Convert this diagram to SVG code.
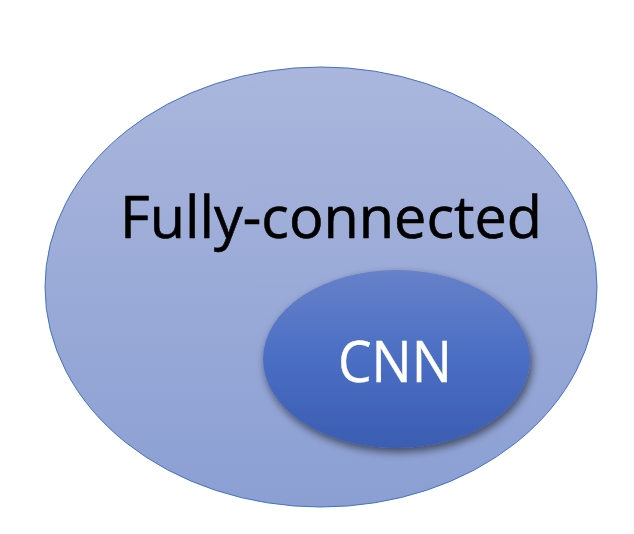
<svg xmlns="http://www.w3.org/2000/svg" width="634" height="534" viewBox="0 0 634 534">
<defs>
<linearGradient id="gOuter" x1="0" y1="0" x2="0" y2="1">
<stop offset="0" stop-color="#AAB6DC"/>
<stop offset="1" stop-color="#8B9FD3"/>
</linearGradient>
<linearGradient id="gInner" x1="0" y1="0" x2="0" y2="1">
<stop offset="0" stop-color="#6781C9"/>
<stop offset="0.5" stop-color="#4A6EC4"/>
<stop offset="1" stop-color="#3B5DB2"/>
</linearGradient>
<filter id="shadow" x="-20%" y="-20%" width="140%" height="150%">
<feGaussianBlur in="SourceAlpha" stdDeviation="4"/>
<feOffset dx="2" dy="4" result="b"/>
<feComponentTransfer><feFuncA type="linear" slope="0.55"/></feComponentTransfer>
<feMerge><feMergeNode/><feMergeNode in="SourceGraphic"/></feMerge>
</filter>
<style>
.lbl{font-family:"Open Sans","Liberation Sans",sans-serif;}
</style>
</defs>
<rect width="634" height="534" fill="#FFFFFF"/>
<g id="fully-connected">
<ellipse cx="321" cy="287" rx="276" ry="220" fill="url(#gOuter)" stroke="#4472C4" stroke-width="1"/>
<text class="lbl" x="331" y="238" font-size="59" fill="#000000" stroke="#000000" stroke-width="0.6" text-anchor="middle" textLength="422" lengthAdjust="spacingAndGlyphs">Fully-connected</text>
</g>
<g id="cnn">
<ellipse cx="396.5" cy="359" rx="133.5" ry="89" fill="url(#gInner)" filter="url(#shadow)"/>
<text class="lbl" x="395" y="382" font-size="56" fill="#FFFFFF" stroke="#FFFFFF" stroke-width="0.4" text-anchor="middle" textLength="114" lengthAdjust="spacingAndGlyphs">CNN</text>
</g>
<g id="connectors"/>
</svg>
